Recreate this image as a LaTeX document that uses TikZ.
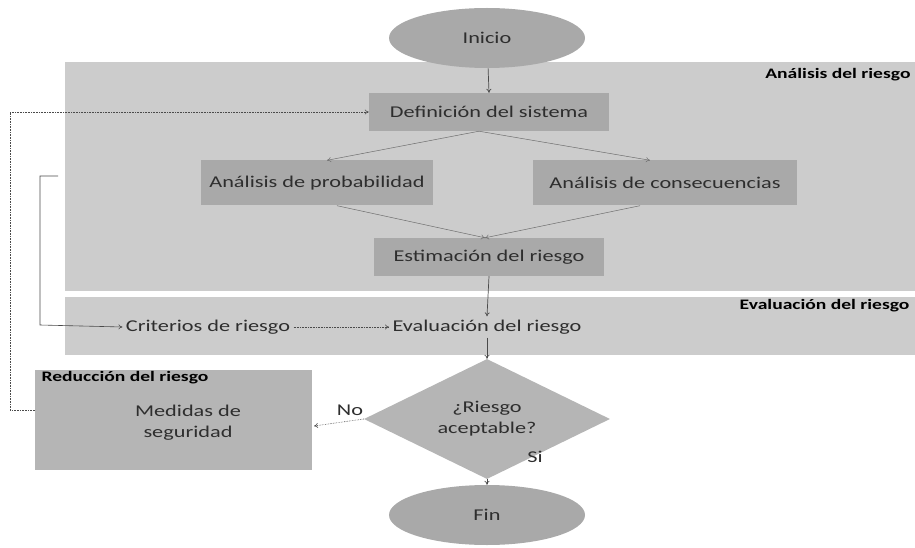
\documentclass[tikz,border=0pt]{standalone}
\usepackage{fontspec}
\setmainfont{Carlito}[FakeStretch=1.35]
\usetikzlibrary{shapes.geometric,arrows.meta}
\definecolor{band}{HTML}{CCCCCC}
\definecolor{boxc}{HTML}{A9A9A9}
\definecolor{redc}{HTML}{B5B5B5}
\definecolor{txt}{HTML}{2E2E2E}
\definecolor{ln}{HTML}{4A4A4A}
\tikzset{
  bandbox/.style={fill=band, draw=none},
  procbox/.style={fill=boxc, draw=none, text=txt, font=\fontsize{16.5}{21}\selectfont, minimum height=38pt, inner sep=2pt},
  term/.style={ellipse, fill=boxc, draw=none, text=txt, minimum width=196pt, minimum height=60pt, font=\fontsize{16.5}{21}\selectfont},
  decide/.style={diamond, fill=redc, draw=none, text=txt, minimum width=246pt, minimum height=120pt, aspect=2, align=center, font=\fontsize{16.5}{21}\selectfont, inner sep=0pt},
  plaintext/.style={text=txt, font=\fontsize{16.5}{21}\selectfont},
  tag/.style={text=black, font=\bfseries\fontsize{14.5}{17}\selectfont},
  arr/.style={draw=ln, line width=0.7pt, -{To[length=4pt,width=5pt]}},
  thinarr/.style={draw=ln!80, line width=0.5pt, -{To[length=4pt,width=5pt]}},
  dotarr/.style={draw=ln, line width=0.6pt, densely dotted, -{To[length=4pt,width=5pt]}},
}
\begin{document}
\begin{tikzpicture}[x=1pt,y=-1pt]
\useasboundingbox (0,0) rectangle (915,548);
% bands
\fill[bandbox] (65,62) rectangle (915,291);
\fill[bandbox] (65,297) rectangle (915,355);
\fill[redc] (35,370) rectangle (312,470);
% labels of zones
\node[tag, anchor=east] (lab1) at (914,75) {Análisis del riesgo};
\node[tag, anchor=east] (lab2) at (913,306) {Evaluación del riesgo};
\node[tag, anchor=west] (lab3) at (38,378) {Reducción del riesgo};
% nodes
\node[term] (ini) at (487,38) {Inicio};
\node[procbox, minimum width=240pt] (def) at (489,112) {Definición del sistema};
\node[procbox, minimum width=232pt, minimum height=45pt] (prob) at (317,183) {Análisis de probabilidad};
\node[procbox, minimum width=264pt, minimum height=45pt] (cons) at (665,183) {Análisis de consecuencias};
\node[procbox, minimum width=230pt] (est) at (489,257) {Estimación del riesgo};
\node[plaintext] (crit) at (208,327) {Criterios de riesgo};
\node[plaintext] (eval) at (487,327) {Evaluación del riesgo};
\node[plaintext, align=center] (med) at (188,423) {Medidas de\\seguridad};
\coordinate (medl) at (35,410);
\coordinate (medr) at (314,426);
\node[decide] (dec) at (487,419) {¿Riesgo\\aceptable?};
\node[term] (fin) at (487,515) {Fin};
\node[plaintext] (no) at (350,410) {No};
\node[plaintext] (si) at (535,457) {Si};
% connectors
\draw[arr] (ini) -- (def.north);
\draw[thinarr] ([xshift=-10pt]def.south) -- ([xshift=10pt]prob.north);
\draw[thinarr] ([xshift=-10pt]def.south) -- ([xshift=-15pt]cons.north);
\draw[thinarr] ([xshift=20pt]prob.south) -- ([xshift=-4pt]est.north);
\draw[thinarr] ([xshift=-25pt]cons.south) -- ([xshift=-4pt]est.north);
\draw[arr] (est.south) -- (eval.north);
\draw[arr] (eval.south) -- (dec.north);
\draw[arr] (dec.south) -- (fin.north);
\draw[dotarr] (dec.west) -- (medr);
\draw[dotarr] (crit) -- (eval);
\coordinate (bkt) at (58,176);
\draw[arr, line width=0.6pt] (bkt) -- (40,176) -- (40,325) -- (crit.west);
\draw[dotarr] (medl) -- (10,410) -- (10,112) -- (def.west);
\end{tikzpicture}
\end{document}
